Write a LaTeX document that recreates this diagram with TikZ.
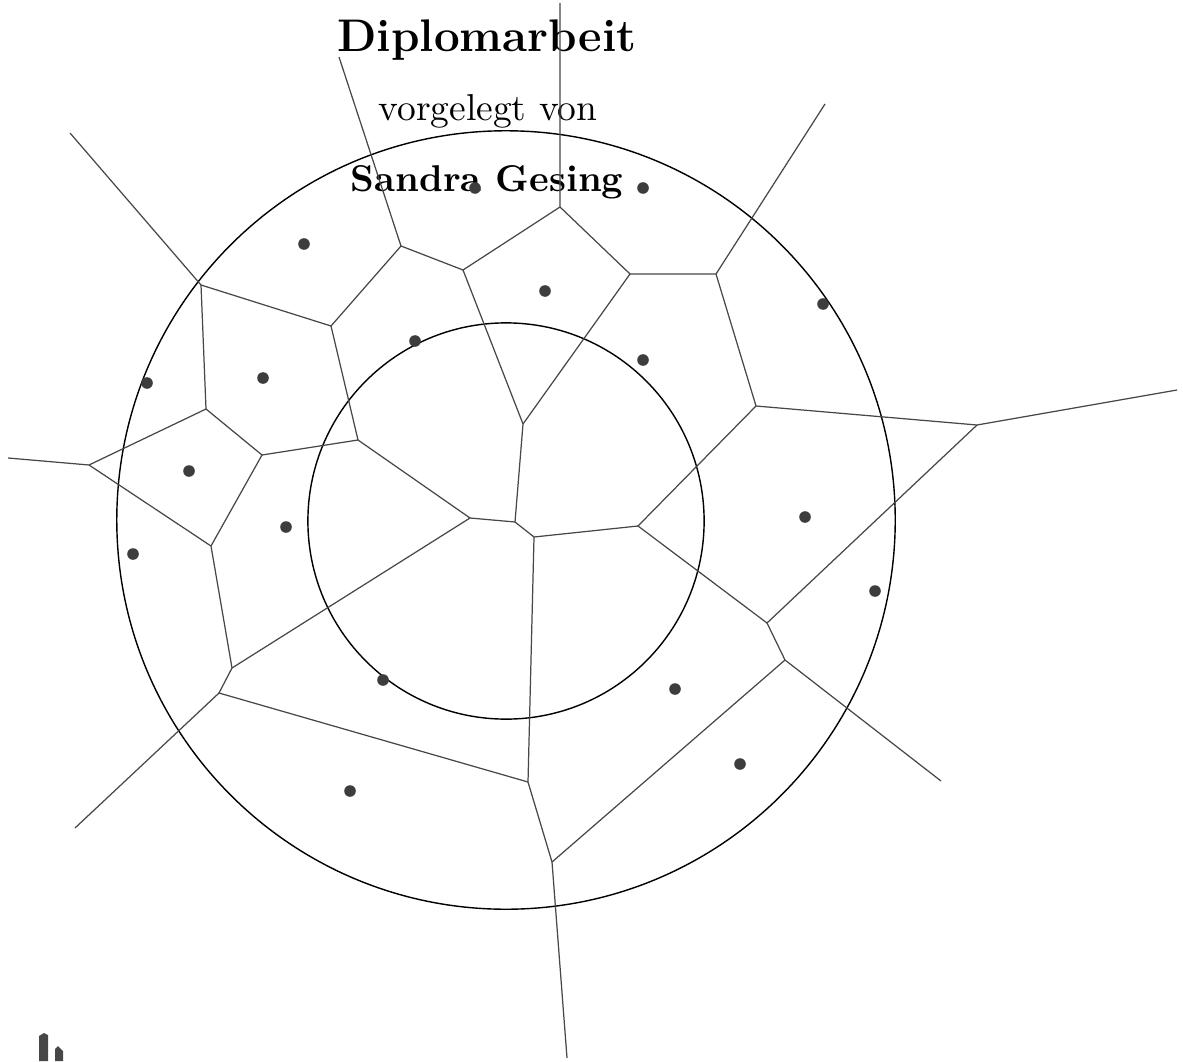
\documentclass[tikz,border=0pt]{standalone}
\usepackage{xcolor}
\usetikzlibrary{calc}

\begin{document}
\begin{tikzpicture}[x=0.01cm, y=-0.01cm,
    cell/.style={line width=0.35pt, black!72},
    ring/.style={line width=0.4pt, black},
    site/.style={fill=black!76}]
  \useasboundingbox (0,0) rectangle (1183,1061);
  % ---- title block
  \node[anchor=base] (title) at (487,52) {\fontsize{13}{15}\selectfont\bfseries Diplomarbeit};
  \node[anchor=base] (by) at (488,121) {\fontsize{10.65}{12}\selectfont vorgelegt von};
  \node[anchor=base] (author) at (487,192) {\fontsize{10.6}{12}\selectfont\bfseries Sandra Gesing};
  % ---- the two circles
  \draw[ring] (506,520) circle (3.89cm);
  \draw[ring] (506,521) circle (1.98cm);
  % ---- vertices of the cells
  \coordinate (c1) at (470,518);
  \coordinate (c2) at (515,522);
  \coordinate (c3) at (534,537);
  \coordinate (c4) at (638,526);
  \coordinate (n1) at (523,424);
  \coordinate (n2) at (463,270);
  \coordinate (n3) at (560,207);
  \coordinate (n4) at (630,274);
  \coordinate (n5) at (716,274);
  \coordinate (n6) at (756,406);
  \coordinate (n7) at (977,425);
  \coordinate (n8) at (767,623);
  \coordinate (n9) at (785,660);
  \coordinate (n10) at (552,862);
  \coordinate (n11) at (528,782);
  \coordinate (n12) at (219,693);
  \coordinate (n13) at (232,668);
  \coordinate (n14) at (211,546);
  \coordinate (n15) at (89,465);
  \coordinate (n16) at (206,409);
  \coordinate (n17) at (262,455);
  \coordinate (n18) at (201,285);
  \coordinate (n19) at (331,326);
  \coordinate (n20) at (401,246);
  \coordinate (n21) at (358,440);
  % free ends of the open edges
  \coordinate (e1) at (560,3);
  \coordinate (e2) at (825,104);
  \coordinate (e3) at (1177,390);
  \coordinate (e4) at (941,781);
  \coordinate (e5) at (567,1058);
  \coordinate (e6) at (75,828);
  \coordinate (e7) at (8,458);
  \coordinate (e8) at (70,133);
  \coordinate (e9) at (339,57);
  % ---- the cell edges
  \draw[cell] (c1) -- (c2) -- (c3) -- (c4);
  \draw[cell] (c2) -- (n1) -- (n2) -- (n3) -- (e1);
  \draw[cell] (n1) -- (n4) -- (n3);
  \draw[cell] (n4) -- (n5) -- (e2);
  \draw[cell] (n5) -- (n6) -- (n7) -- (e3);
  \draw[cell] (n6) -- (c4) -- (n8) -- (n7);
  \draw[cell] (n8) -- (n9) -- (e4);
  \draw[cell] (n9) -- (n10) -- (e5);
  \draw[cell] (n10) -- (n11) -- (c3);
  \draw[cell] (n11) -- (n12) -- (e6);
  \draw[cell] (n12) -- (n13) -- (c1);
  \draw[cell] (n13) -- (n14) -- (n15) -- (e7);
  \draw[cell] (n14) -- (n17) -- (n16) -- (n15);
  \draw[cell] (n16) -- (n18) -- (e8);
  \draw[cell] (n18) -- (n19) -- (n20) -- (e9);
  \draw[cell] (n20) -- (n2);
  \draw[cell] (n19) -- (n21) -- (n17);
  \draw[cell] (n21) -- (c1);
  % ---- the sites
  \foreach \p in {(475,188),(643,188),(304,244),(545,291),(823,304),(415,341),
                  (643,360),(147,383),(263,378),(189,471),(805,517),(286,527),
                  (133,554),(875,591),(383,680),(675,689),(740,764),(350,791)}
    \fill[site] \p circle (0.58mm);
  % ---- cut-off glyph at the lower left
  \fill[black!72] (39,1036) -- (44,1033) -- (48,1035) -- (48,1061) -- (39,1061) -- cycle;
  \fill[black!72] (55,1049) -- (58,1046) -- (63,1051) -- (63,1061) -- (55,1061) -- cycle;
\end{tikzpicture}
\end{document}
